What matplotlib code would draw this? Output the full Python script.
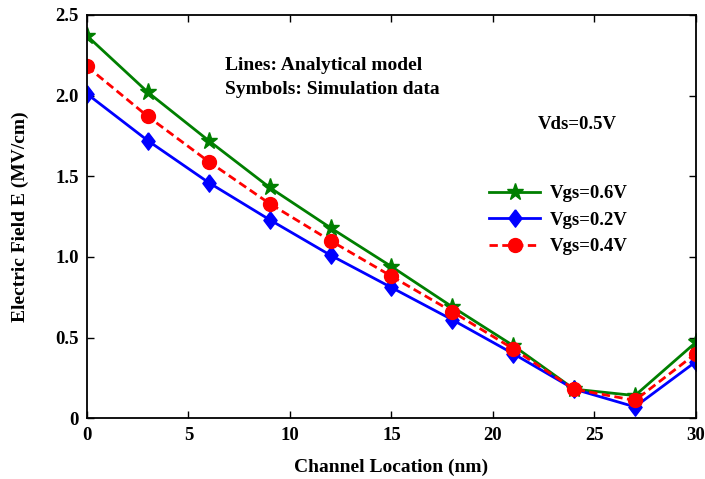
import matplotlib.pyplot as plt

plt.rcParams['font.family'] = ['Liberation Serif', 'DejaVu Serif']
plt.rcParams['font.weight'] = 'bold'

# channel positions (nm)
x_pos = [0, 3, 6, 9, 12, 15, 18, 21, 24, 27, 30]
# electric field (MV/cm)
e_vgs06 = [2.37, 2.02, 1.72, 1.43, 1.18, 0.94, 0.69, 0.45, 0.18, 0.14, 0.47]
e_vgs02 = [2.01, 1.72, 1.46, 1.23, 1.01, 0.81, 0.61, 0.40, 0.18, 0.07, 0.35]
e_vgs04 = [2.18, 1.87, 1.59, 1.33, 1.10, 0.88, 0.66, 0.43, 0.18, 0.11, 0.40]

x_ticks = [0, 5, 10, 15, 20, 25, 30]
y_ticks = [0, 0.5, 1.0, 1.5, 2.0, 2.5]
y_tick_labels = ['0', '0.5', '1.0', '1.5', '2.0', '2.5']

# slightly tall diamond like the original symbols
diamond = [(0, 1), (0.76, 0), (0, -1), (-0.76, 0), (0, 1)]

fig = plt.figure(figsize=(7.05, 4.79), dpi=100)
ax = fig.add_axes([0.1234, 0.127, 0.8636, 0.842])

ax.plot(x_pos, e_vgs06, color='#007f00', lw=2, marker='*', ms=12.5, label='Vgs=0.6V')
ax.plot(x_pos, e_vgs02, color='#0000ff', lw=2, marker=diamond, ms=12.5, label='Vgs=0.2V')
ax.plot(x_pos, e_vgs04, color='#ff0000', lw=2, ls='--', dashes=(3, 1.6), marker='o', ms=10, label='Vgs=0.4V')

ax.set_xlim(0, 30)
ax.set_ylim(0, 2.5)
ax.set_xticks(x_ticks)
ax.set_yticks(y_ticks)
ax.set_yticklabels(y_tick_labels)
ax.tick_params(direction='in', top=True, right=True, labelsize=13.5, length=5, width=1, pad=6)
for s in ax.spines.values():
    s.set_linewidth(1.3)

ax.set_xlabel('Channel Location (nm)', fontsize=14, fontweight='bold', labelpad=11)
ax.set_ylabel('Electric Field E (MV/cm)', fontsize=14, fontweight='bold', labelpad=19)

ax.text(6.8, 2.185, 'Lines: Analytical model', fontsize=14, fontweight='bold', va='center')
ax.text(6.8, 2.04, 'Symbols: Simulation data', fontsize=14, fontweight='bold', va='center')
ax.text(22.2, 1.82, 'Vds=0.5V', fontsize=13.5, fontweight='bold', va='center')

ax.legend(loc='upper left', bbox_to_anchor=(0.66, 0.578), frameon=False, fontsize=13.5,
          handlelength=2.75, handletextpad=0.5, labelspacing=0.5, borderpad=0, borderaxespad=0)

fig.savefig('out.png', dpi=100)
